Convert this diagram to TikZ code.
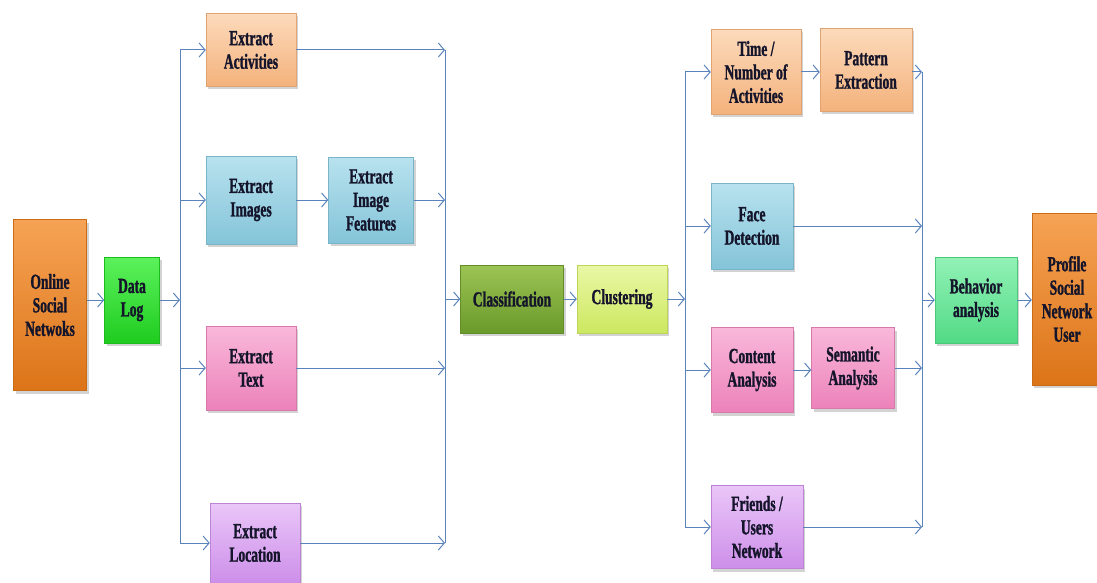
\documentclass[tikz,border=0pt]{standalone}
\usepackage{fontspec}
\setmainfont{Liberation Serif}[FakeStretch=0.63, BoldFeatures={FakeBold=1.2}]
\usetikzlibrary{arrows.meta,shadows}

\definecolor{ink}{HTML}{14142A}
\definecolor{conn}{HTML}{5A83BC}
% fill colours: top / bottom of each box gradient
\definecolor{orT}{HTML}{F6A355}\definecolor{orB}{HTML}{DC7418}
\definecolor{grT}{HTML}{5CF25C}\definecolor{grB}{HTML}{1FCC1F}
\definecolor{loT}{HTML}{FCDABB}\definecolor{loB}{HTML}{F4B27C}
\definecolor{lbT}{HTML}{B8E2EE}\definecolor{lbB}{HTML}{84C4D9}
\definecolor{pkT}{HTML}{F9B8DA}\definecolor{pkB}{HTML}{EC82BA}
\definecolor{lvT}{HTML}{EAC6F8}\definecolor{lvB}{HTML}{CD8FE9}
\definecolor{olT}{HTML}{9CC455}\definecolor{olB}{HTML}{6A9A2A}
\definecolor{ygT}{HTML}{EAF7A6}\definecolor{ygB}{HTML}{CCE860}
\definecolor{mnT}{HTML}{92F2B6}\definecolor{mnB}{HTML}{52DA86}

\begin{document}
\begin{tikzpicture}[x=1pt,y=1pt,
  box/.style={rectangle, inner sep=0pt, align=center,
    font=\fontsize{21.5}{23.5}\selectfont\bfseries, text=ink,
    drop shadow={opacity=0.35,shadow xshift=2pt,shadow yshift=-3pt}},
  fillpair/.style 2 args={top color=#1, bottom color=#2, draw=#2!92!black, line width=0.5pt},
  orange/.style={fillpair={orT}{orB}},
  green/.style={fillpair={grT}{grB}},
  lorange/.style={fillpair={loT}{loB}},
  lblue/.style={fillpair={lbT}{lbB}},
  pink/.style={fillpair={pkT}{pkB}},
  lavender/.style={fillpair={lvT}{lvB}},
  olive/.style={fillpair={olT}{olB}},
  yellowgreen/.style={fillpair={ygT}{ygB}},
  mint/.style={fillpair={mnT}{mnB}},
  ln/.style={draw=conn, line width=1pt},
  arr/.style={draw=conn, line width=1pt, -{Straight Barb[length=6pt,width=14pt,line width=1pt]}}
]
\useasboundingbox (0,0) rectangle (1097,-583);
\clip (0,0) rectangle (1097,-583);

% source and log
\node[box,orange,minimum width=73,minimum height=171] (osn) at (50,-305) {Online\\Social\\Netwoks};
\node[box,green,minimum width=55,minimum height=86] (dl) at (132,-300) {Data\\Log};

% extraction branch
\node[box,lorange,minimum width=90,minimum height=73] (act) at (251,-50) {Extract\\Activities};
\node[box,lblue,minimum width=90,minimum height=88] (img) at (251,-200) {Extract\\Images};
\node[box,lblue,minimum width=85,minimum height=86] (imf) at (371,-200) {Extract\\Image\\Features};
\node[box,pink,minimum width=90,minimum height=84] (txt) at (251,-368) {Extract\\Text};
\node[box,lavender,minimum width=90,minimum height=80] (loc) at (255,-543) {Extract\\Location};

% classification and clustering
\node[box,olive,minimum width=103,minimum height=68] (cls) at (512,-299) {Classification};
\node[box,yellowgreen,minimum width=90,minimum height=68] (clu) at (622,-299) {Clustering};

% analysis branch
\node[box,lorange,minimum width=90,minimum height=85] (tna) at (756,-72) {Time /\\Number of\\Activities};
\node[box,lorange,minimum width=92,minimum height=83] (pat) at (866,-70) {Pattern\\Extraction};
\node[box,lblue,minimum width=82,minimum height=86] (fac) at (752,-226) {Face\\Detection};
\node[box,pink,minimum width=82,minimum height=85] (con) at (752,-370) {Content\\Analysis};
\node[box,pink,minimum width=83,minimum height=81] (sem) at (853,-368) {Semantic\\Analysis};
\node[box,lavender,minimum width=92,minimum height=83] (fri) at (757,-527) {Friends /\\Users\\Network};

% result
\node[box,mint,minimum width=82,minimum height=86] (beh) at (976,-300) {Behavior\\analysis};
\node[box,orange,minimum width=70,minimum height=172] (pro) at (1067,-299) {Profile\\Social\\Network\\User};

% bus lines
\coordinate (s1) at (180,-300);
\coordinate (s2) at (445,-299);
\coordinate (s3) at (685,-299);
\coordinate (s4) at (922,-300);
\draw[ln] (act.west -| s1) -- (loc.west -| s1);
\draw[ln] (act.east -| s2) -- (loc.east -| s2);
\draw[ln] (tna.west -| s3) -- (fri.west -| s3);
\draw[ln] (tna.west -| s4) -- (fri.east -| s4);

% connectors
\draw[arr] (dl.west -| osn.east) -- (dl.west);
\draw[arr] (dl.east) -- (s1);
\draw[arr] (act.west -| s1) -- (act.west);
\draw[arr] (img.west -| s1) -- (img.west);
\draw[arr] (txt.west -| s1) -- (txt.west);
\draw[arr] (loc.west -| s1) -- (loc.west);
\draw[arr] (img.east) -- (imf.west);
\draw[arr] (act.east) -- (act.east -| s2);
\draw[arr] (imf.east) -- (imf.east -| s2);
\draw[arr] (txt.east) -- (txt.east -| s2);
\draw[arr] (loc.east) -- (loc.east -| s2);
\draw[arr] (s2) -- (cls.west);
\draw[arr] (cls.east) -- (clu.west);
\draw[arr] (clu.east) -- (s3);
\draw[arr] (tna.west -| s3) -- (tna.west);
\draw[arr] (fac.west -| s3) -- (fac.west);
\draw[arr] (con.west -| s3) -- (con.west);
\draw[arr] (fri.west -| s3) -- (fri.west);
\draw[arr] (tna.east) -- (tna.east -| pat.west);
\draw[arr] (con.east) -- (con.east -| sem.west);
\draw[arr] (tna.east -| pat.east) -- (tna.east -| s4);
\draw[arr] (fac.east) -- (fac.east -| s4);
\draw[arr] (sem.east) -- (sem.east -| s4);
\draw[arr] (fri.east) -- (fri.east -| s4);
\draw[arr] (s4) -- (beh.west);
\draw[arr] (beh.east) -- (pro.west |- beh.east);
\end{tikzpicture}
\end{document}
